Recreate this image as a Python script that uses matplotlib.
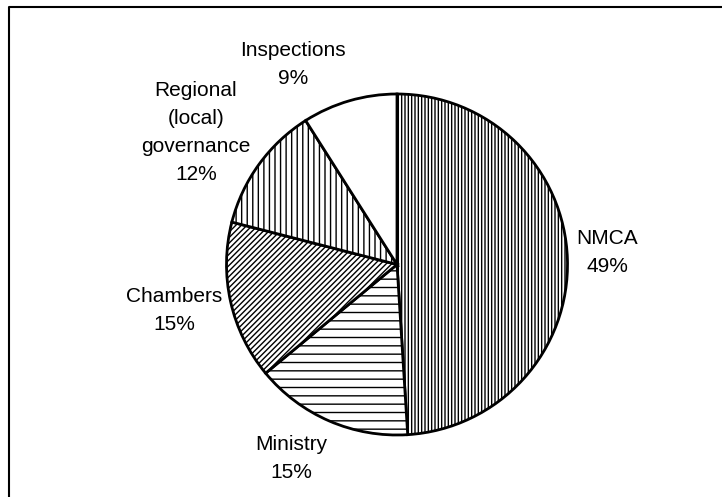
import matplotlib.pyplot as plt
from matplotlib.lines import Line2D

plt.rcParams['font.family'] = ['Liberation Sans', 'DejaVu Sans']
plt.rcParams['hatch.linewidth'] = 1.0

labels = ['NMCA', 'Ministry', 'Chambers', 'Regional\n(local)\ngovernance', 'Inspections']
shares = [49, 15, 15, 12, 9]
hatches = ['|||||', '--', '//////', '|||', '']
# label centres in pixel coords (x right, y down)
label_px = [(607, 253), (291, 458), (174, 311), (196, 133), (293, 64)]

W, H = 722, 497
fig = plt.figure(figsize=(W / 100, H / 100), dpi=100)
ax = fig.add_axes([0, 0, 1, 1])

cx, cy, R = 397, H - 264.5, 170.5
wedges, _ = ax.pie(shares, startangle=90, counterclock=False, center=(cx, cy), radius=R,
                   colors=['white'] * len(shares), frame=True,
                   wedgeprops=dict(edgecolor='black', linewidth=2))
for w, h in zip(wedges, hatches):
    w.set_hatch(h)
ax.set_xlim(0, W)
ax.set_ylim(0, H)
ax.set_aspect('equal')
ax.axis('off')

for lab, val, (px, py) in zip(labels, shares, label_px):
    ax.text(px, H - py, f'{lab}\n{val}%', ha='center', va='center', fontsize=15, linespacing=1.6)

# border (only left and top edges are visible in the crop)
ax.add_line(Line2D([9, 9, W], [0, H - 7, H - 7], color='black', linewidth=1.5))

fig.savefig('out.png', dpi=100)
